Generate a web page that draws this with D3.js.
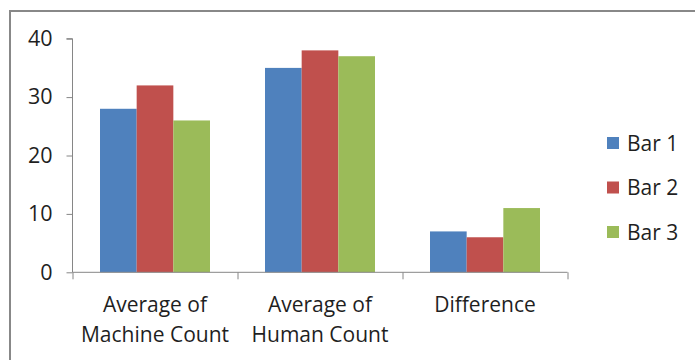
<!DOCTYPE html>
<html>
<head>
<meta charset="utf-8">
<script src="https://cdn.jsdelivr.net/npm/d3@7"></script>
<style>
  html, body { margin: 0; padding: 0; background: #fff; }
  svg { display: block; }
  text { font-family: "Open Sans", "DejaVu Sans", sans-serif; fill: #1f1f1f; }
</style>
</head>
<body>
<svg id="chart" width="695" height="360"></svg>
<script>
// Chart data
const categories = [["Average of", "Machine Count"], ["Average of", "Human Count"], ["Difference"]];
const seriesNames = ["Bar 1", "Bar 2", "Bar 3"];
const bar1 = [28, 35, 7];
const bar2 = [32, 38, 6];
const bar3 = [26, 37, 11];
const yTicks = [0, 10, 20, 30, 40];
const colors = ["#4f81bd", "#c0504d", "#9bbb59"];

const seriesValues = [bar1, bar2, bar3];
const svg = d3.select("#chart");

// Outer chart frame (right and bottom edges fall outside the view)
svg.append("rect")
  .attr("x", 10).attr("y", 11)
  .attr("width", 700).attr("height", 360)
  .attr("fill", "none").attr("stroke", "#888").attr("stroke-width", 2);

const plot = { left: 72.5, right: 567.5, top: 38.7, bottom: 272.3 };

const x0 = d3.scaleBand()
  .domain(d3.range(categories.length))
  .range([plot.left, plot.right])
  .paddingInner(0).paddingOuter(0);

// Excel-style gap width 150%: groups take 3 of 4.5 units in each band
const x1 = d3.scaleBand()
  .domain(d3.range(seriesNames.length))
  .range([0, x0.bandwidth()])
  .paddingInner(0).paddingOuter(0.75);

const y = d3.scaleLinear().domain([0, 40]).range([plot.bottom, plot.top]);

// Bars
const groups = svg.append("g").selectAll("g")
  .data(categories.map((c, i) => i))
  .join("g")
  .attr("transform", i => `translate(${x0(i)},0)`);

groups.selectAll("rect")
  .data(i => seriesValues.map((vals, s) => ({ s, v: vals[i] })))
  .join("rect")
  .attr("x", d => x1(d.s))
  .attr("width", x1.bandwidth())
  .attr("y", d => y(d.v))
  .attr("height", d => y(0) - y(d.v))
  .attr("fill", d => colors[d.s]);

// Y axis
const yAxis = d3.axisLeft(y).tickValues(yTicks).tickSize(6).tickPadding(14);
const gy = svg.append("g").attr("transform", `translate(${plot.left},0)`).call(yAxis);
gy.select(".domain").attr("stroke", "#868686").attr("d", `M-6,${y(40)}H0V${y(0)}`);
gy.selectAll(".tick line").attr("stroke", "#868686");
gy.selectAll(".tick text")
  .attr("font-size", 21.5)
  .style("font-family", "'Open Sans', sans-serif")
  .attr("fill", "#1f1f1f");

// X axis line with ticks at category boundaries
const xScaleLin = d3.scaleLinear().domain([0, categories.length]).range([plot.left, plot.right]);
const xAxis = d3.axisBottom(xScaleLin).tickValues(d3.range(categories.length + 1)).tickSize(7).tickFormat("");
const gx = svg.append("g").attr("transform", `translate(0,${plot.bottom})`).call(xAxis);
gx.select(".domain").attr("stroke", "#868686").attr("d", `M${plot.left},0H${plot.right}`);
gx.selectAll(".tick line").attr("stroke", "#868686");

// Category labels
const labels = svg.append("g");
categories.forEach((lines, i) => {
  const cx = x0(i) + x0.bandwidth() / 2;
  const t = labels.append("text")
    .attr("text-anchor", "middle")
    .attr("font-size", 21)
    .attr("x", cx).attr("y", 312);
  lines.forEach((ln, k) => {
    t.append("tspan").attr("x", cx).attr("y", 312 + k * 29.5).text(ln);
  });
});

// Legend
const legend = svg.append("g");
const legendY = d3.scalePoint().domain(seriesNames).range([143, 232]);
seriesNames.forEach((name, i) => {
  legend.append("rect")
    .attr("x", 607).attr("y", legendY(name) - 6)
    .attr("width", 12).attr("height", 12)
    .attr("fill", colors[i]);
  legend.append("text")
    .attr("x", 627).attr("y", legendY(name))
    .attr("dy", "0.36em")
    .attr("font-size", 21)
    .text(name);
});
</script>
</body>
</html>
